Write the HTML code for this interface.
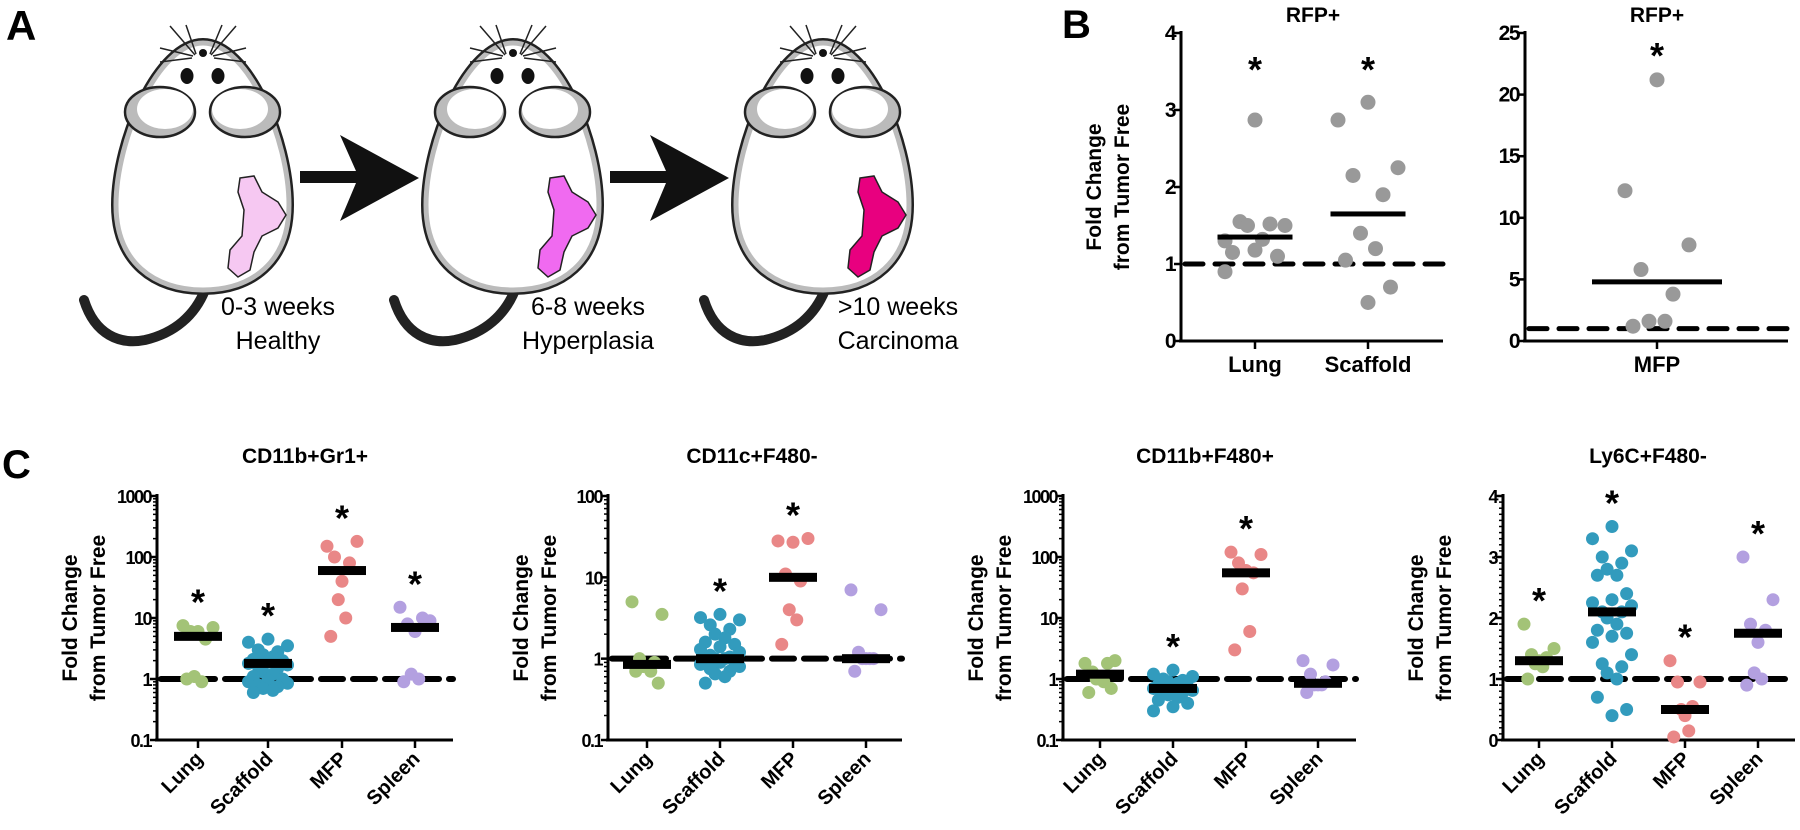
<!DOCTYPE html>
<html><head><meta charset="utf-8"><style>
body{margin:0;background:#fff;}
svg{display:block;font-family:"Liberation Sans",sans-serif;}
.ax{stroke:#000;stroke-width:3;fill:none}
.tl{font-weight:bold;font-size:21px}
</style></head><body>
<svg id="fig" width="1800" height="830" viewBox="0 0 1800 830">
<g id="panelA">
<text x="6" y="40" font-size="42" font-weight="bold">A</text>
</g>
<text x="1062" y="38" font-size="40" font-weight="bold">B</text>
<text x="2" y="478" font-size="40" font-weight="bold">C</text>
<g id="charts"></g>
</svg>
<script>
// ---------- Panel B data ----------
const bLeftCats = ["Lung","Scaffold"];
const bLung = [2.87,1.3,1.5,1.55,1.52,1.5,1.32,1.15,1.1,1.18,0.9];
const bScaffold = [3.1,2.87,2.25,2.15,1.9,1.4,1.2,1.05,0.7,0.5];
const bLeftMeans = [1.35,1.65];
const bLeftTicks = [0,1,2,3,4];
const bRightCats = ["MFP"];
const bMFP = [21.2,12.2,7.8,5.8,3.8,1.6,1.6,1.2];
const bRightMeans = [4.8];
const bRightTicks = [0,5,10,15,20,25];
// ---------- Panel C data ----------
const cCats = ["Lung","Scaffold","MFP","Spleen"];
const c1Lung=[6,7.5,7,6,4.5,1.1,0.9,1.0];
const c1Scaffold=[4.5,4,3.5,3,2.8,2.5,2.3,2.1,2,1.9,1.8,1.7,1.6,1.5,1.3,1.2,1.1,1,0.95,0.9,0.85,0.8,0.75,0.7,0.65,0.6];
const c1MFP=[40,150,180,100,80,20,10,5];
const c1Spleen=[6,15,9,8,10,1.2,1,0.9];
const c1Medians=[5,1.8,60,7];
const c2Lung=[0.8,5,3.5,1,0.9,0.8,0.7,0.7,0.5];
const c2Scaffold=[3.5,3.2,3,2.6,2.3,2,1.8,1.6,1.5,1.4,1.3,1.2,1.1,1.05,1,1,0.95,0.9,0.9,0.85,0.8,0.75,0.7,0.65,0.6,0.5];
const c2MFP=[27,28,30,11,9,4,3,1.5];
const c2Spleen=[1,7,4,1.2,1,1,1,0.7];
const c2Medians=[0.85,1.0,10,1.0];
const c3Lung=[1,1.8,2,1.3,1.8,1,0.9,0.6,0.7];
const c3Scaffold=[1.4,1.2,1.1,1,0.95,0.9,0.85,0.8,0.75,0.7,0.7,0.65,0.6,0.6,0.55,0.5,0.45,0.4,0.35,0.3];
const c3MFP=[60,120,110,80,55,30,6,3];
const c3Spleen=[0.8,2,1.7,1.2,0.9,0.8,0.8,0.6];
const c3Medians=[1.2,0.7,55,0.85];
const c4Lung=[1.3,1.9,1.5,1.4,1.35,1.25,1.2,1.0];
const c4Scaffold=[3.5,3.3,3.1,3,2.9,2.8,2.7,2.7,2.4,2.3,2.25,2.2,2.1,2.1,2.0,1.9,1.8,1.75,1.7,1.6,1.4,1.25,1.2,1.1,1.0,0.7,0.5,0.4];
const c4MFP=[0.4,1.3,0.95,0.95,0.55,0.5,0.15,0.05];
const c4Spleen=[1.6,3,2.3,1.9,1.8,1.1,1.0,0.9];
const c4Medians=[1.3,2.1,0.5,1.75];
const logTicks3=[0.1,1,10,100,1000];
const logTicks2=[0.1,1,10,100];
const linTicks4=[0,1,2,3,4];
const colors=["#a3c377","#329bbd","#e98787","#b3a0e0"];

const NS="http://www.w3.org/2000/svg";
const root=document.getElementById('charts');
function mk(tag,attrs,parent){const e=document.createElementNS(NS,tag);for(const k in attrs)e.setAttribute(k,attrs[k]);(parent||root).appendChild(e);return e;}

// ---------- Panel A (mice) ----------
const pa=document.getElementById('panelA');
const tumorFill=["#f6c8f2","#f06af0","#e8007f"];
const labels1=["0-3 weeks","6-8 weeks",">10 weeks"];
const labels2=["Healthy","Hyperplasia","Carcinoma"];
for(let m=0;m<3;m++){
  const dx=m*310;
  const g=mk('g',{transform:`translate(${dx},0)`},pa);
  
  
  mk('path',{d:"M84,300 C95,335 120,345 145,340 C175,333 195,315 205,290",fill:"none",stroke:"#222","stroke-width":10,"stroke-linecap":"round"},g);
  const body="M203,43 C248,43 289,140 289,205 C289,262 252,290 203,290 C154,290 116,262 116,205 C116,140 158,43 203,43 Z";
  mk('path',{d:body,fill:"#fff",stroke:"#222","stroke-width":10},g);
  mk('path',{d:body,fill:"#fff",stroke:"#bbb","stroke-width":5},g);
  for(const ex of [160,245]){mk('ellipse',{cx:ex,cy:112,rx:35,ry:25,fill:"#bbb",stroke:"#222","stroke-width":2.5},g);mk('ellipse',{cx:ex+(ex<200?5:-5),cy:109,rx:28,ry:20,fill:"#fff"},g);}
  mk('ellipse',{cx:187,cy:76,rx:6.5,ry:8,fill:"#111"},g);mk('ellipse',{cx:218,cy:76,rx:6.5,ry:8,fill:"#111"},g);
  mk('circle',{cx:203,cy:53,r:4,fill:"#111"},g);
  for(const w of [[195,55,170,26],[193,56,160,48],[196,54,186,25],[211,55,236,26],[213,56,246,48],[210,54,222,25],[192,58,160,62],[214,58,246,62]]) mk('line',{x1:w[0],y1:w[1],x2:w[2],y2:w[3],stroke:"#222","stroke-width":1.5},g);
  mk('path',{d:"M240,178 L254,176 L262,192 L278,202 L286,215 L278,228 L262,236 L254,252 L250,270 L238,277 L228,268 L230,250 L242,236 L244,210 L238,192 Z",fill:tumorFill[m],stroke:"#222","stroke-width":1.5},g);
  const t1=mk('text',{x:278,y:315,"font-size":"25","text-anchor":"middle"},g);t1.textContent=labels1[m];
  
  const t2=mk('text',{x:278,y:349,"font-size":"25","text-anchor":"middle"},g);t2.textContent=labels2[m];
  
  if(m<2){const ar=mk('path',{d:"M300,171 L356,171 L340,135 L419,178 L340,221 L356,183 L300,183 Z",fill:"#111"},g);
    }
}

// ---------- generic chart ----------
const jpat=[0,-1,1,-0.5,0.5,-0.25,0.25,-0.75,0.75];
function chart(o){
  const g=mk('g',{});
  
  
  const Y=v=>{ if(o.log){const t=(Math.log10(v)-Math.log10(o.lo))/(Math.log10(o.hi)-Math.log10(o.lo));return o.y0-t*(o.y0-o.y1);} const t=(v-o.lo)/(o.hi-o.lo);return o.y0-t*(o.y0-o.y1);};
  const tt=mk('text',{x:o.tx,y:o.ty,"text-anchor":"middle",class:"tl"},g);tt.textContent=o.title;
  
  if(o.ytitle){
    const yt=mk('text',{transform:`translate(${o.ax-80},${(o.y0+o.y1)/2}) rotate(-90)`,"text-anchor":"middle","font-size":"21","font-weight":"bold"},g);
    
    const s1=mk('tspan',{x:0,dy:0},yt);s1.textContent="Fold Change";
    const s2=mk('tspan',{x:0,dy:28},yt);s2.textContent="from Tumor Free";
  }
  const ya=mk('line',{x1:o.ax,y1:o.y1-2,x2:o.ax,y2:o.y0,class:"ax"},g);
  const xa=mk('line',{x1:o.ax-2,y1:o.y0,x2:o.xend,y2:o.y0,class:"ax"},g);
  o.ticks.forEach(t=>{mk('line',{x1:o.ax-7,y1:Y(t),x2:o.ax,y2:Y(t),stroke:"#000","stroke-width":2.5},g);
    const tl=mk('text',{x:o.ax-6,y:Y(t)+7,"text-anchor":"end","font-size":o.tf,"font-weight":"bold","letter-spacing":"-1.5"},g);tl.textContent=String(t);
    });
  if(o.log){for(let d=0;d<o.ticks.length-1;d++)for(let k=2;k<10;k++){const v=o.ticks[d]*k;mk('line',{x1:o.ax-4,y1:Y(v),x2:o.ax,y2:Y(v),stroke:"#000","stroke-width":1.5},g);}}
  else if(o.minor){for(let v=o.lo;v<o.hi;v+=o.minor)mk('line',{x1:o.ax-4,y1:Y(v),x2:o.ax,y2:Y(v),stroke:"#000","stroke-width":1.5},g);}
  const dl=mk('line',{x1:o.ax+4,y1:Y(1),x2:o.xend,y2:Y(1),stroke:"#000","stroke-width":o.dashW,"stroke-dasharray":o.dash,"stroke-linecap":"round"},g);
  
  o.cats.forEach((c,i)=>{
    const cx=o.xs[i];
    mk('line',{x1:cx,y1:o.y0,x2:cx,y2:o.y0+8,stroke:"#000","stroke-width":2.5},g);
    const lab=o.rot?mk('text',{transform:`translate(${cx+6},${o.y0+20}) rotate(-45)`,"text-anchor":"end","font-size":"20","font-weight":"bold"},g)
      :mk('text',{x:cx,y:o.y0+31,"text-anchor":"middle","font-size":"22","font-weight":"bold"},g);
    lab.textContent=c;
    const vals=o.series[i];const col=o.colors?o.colors[i]:"#999";
    const js=o.js*(vals.length>12?1.3:1);
    vals.forEach((v,j)=>{const p=mk('circle',{cx:cx+jpat[j%jpat.length]*js,cy:Y(v),r:o.r,fill:col},g);
      });
    const mh=o.barH;
    const b=mk('rect',{x:cx-o.barW/2,y:Y(o.meds[i])-mh/2,width:o.barW,height:mh,fill:"#000"},g);
    
    if(o.stars[i]){const mx=Math.max(...vals);const sy=o.starY?o.starY:Y(mx)-11;
      const st=mk('text',{x:cx,y:sy,"text-anchor":"middle","font-size":"36","font-weight":"bold"},g);
      st.textContent="*";}
  });
}
chart({name:"rfp-lung-scaffold-chart",title:"RFP+",tx:1313,ty:22,ytitle:true,ax:1181,xend:1443,y0:341,y1:33,lo:0,hi:4,log:false,ticks:bLeftTicks,minor:0,tf:"21",
  cats:bLeftCats,xs:[1255,1368],series:[bLung,bScaffold],meds:bLeftMeans,barW:75,barH:5,stars:[1,1],starY:82,r:7.5,js:30,rot:false,dashW:5,dash:"18,12"});
chart({name:"rfp-mfp-chart",title:"RFP+",tx:1657,ty:22,ytitle:false,ax:1525,xend:1788,y0:341,y1:33,lo:0,hi:25,log:false,ticks:bRightTicks,minor:0,tf:"21",
  cats:bRightCats,xs:[1657],series:[bMFP],meds:bRightMeans,barW:130,barH:5,stars:[1],starY:68,r:7.5,js:32,rot:false,dashW:5,dash:"18,12"});
const cx1=[[198,268,342,415],[647,720,793,866],[1100,1173,1246,1318],[1539,1612,1685,1758]];
const cfg=[["cd11b-gr1-chart","CD11b+Gr1+",true,0.1,1000,logTicks3,[c1Lung,c1Scaffold,c1MFP,c1Spleen],c1Medians,[1,1,1,1],157,453,305],
 ["cd11c-f480-chart","CD11c+F480-",true,0.1,100,logTicks2,[c2Lung,c2Scaffold,c2MFP,c2Spleen],c2Medians,[0,1,1,0],608,902,752],
 ["cd11b-f480-chart","CD11b+F480+",true,0.1,1000,logTicks3,[c3Lung,c3Scaffold,c3MFP,c3Spleen],c3Medians,[0,1,1,0],1063,1356,1205],
 ["ly6c-f480-chart","Ly6C+F480-",false,0,4,linTicks4,[c4Lung,c4Scaffold,c4MFP,c4Spleen],c4Medians,[1,1,1,1],1503,1795,1648]];
cfg.forEach((c,k)=>chart({name:c[0],title:c[1],log:c[2],lo:c[3],hi:c[4],ticks:c[5],series:c[6],meds:c[7],stars:c[8],ax:c[9],xend:c[10],ytitle:true,tx:c[11],ty:463,
  y0:740,y1:496,cats:cCats,xs:cx1[k],colors:colors,barW:48,barH:9,r:6.5,js:15,rot:true,minor:c[2]?0:0.1,dashW:6,dash:"22,10",tf:"18"}));
</script>
</body></html>
